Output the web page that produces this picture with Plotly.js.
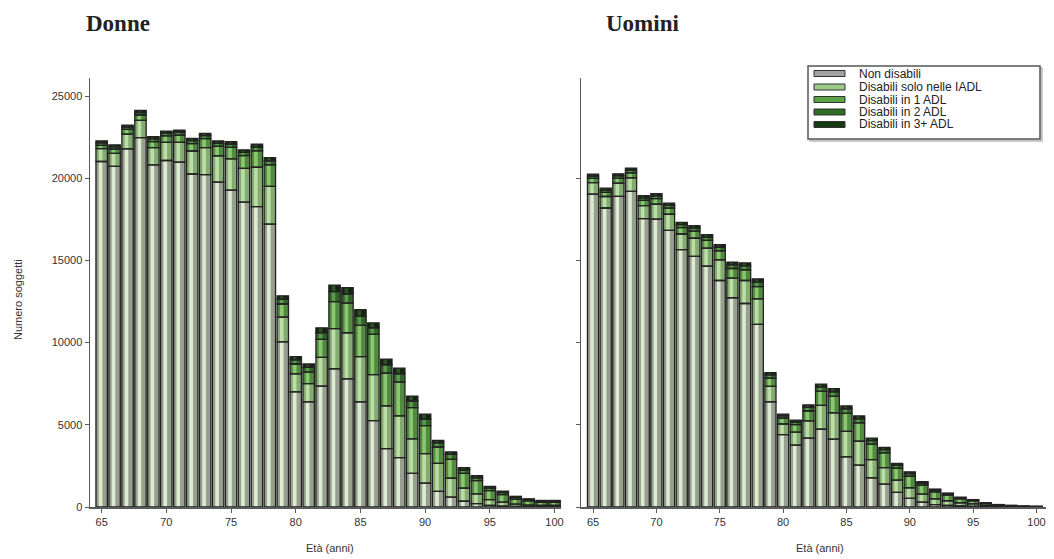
<!DOCTYPE html>
<html>
<head>
<meta charset="utf-8">
<script src="https://cdn.plot.ly/plotly-3.0.1.min.js"></script>
<style>html,body{margin:0;padding:0;background:#fff;}#chart{width:1054px;height:559px;}</style>
</head>
<body>
<div id="chart"></div>
<script>
// Categories: age in years
const ages = [65,66,67,68,69,70,71,72,73,74,75,76,77,78,79,80,81,82,83,84,85,86,87,88,89,90,91,92,93,94,95,96,97,98,99,100];
const ageTicks = [65,70,75,80,85,90,95,100];
const yTicks = [0,5000,10000,15000,20000,25000];
const seriesNames = ["Non disabili","Disabili solo nelle IADL","Disabili in 1 ADL","Disabili in 2 ADL","Disabili in 3+ ADL"];

// Donne (women)
const donneNon  = [21020,20720,21790,22470,20820,21080,20980,20260,20220,19760,19280,18550,18270,17210,10050,7000,6400,7350,8400,7800,6400,5250,3550,3000,2050,1450,950,600,350,200,100,50,30,20,10,10];
const donneIADL = [780,800,900,1050,1050,1100,1200,1400,1650,1600,1900,2050,2400,2300,1500,1100,1100,1750,2450,2800,2750,2800,2600,2550,2100,1800,1700,1150,800,600,350,250,150,100,80,80];
const donne1ADL = [200,250,280,330,360,400,450,450,540,580,700,780,1000,1300,800,600,700,1100,1650,1800,1900,2450,2000,2050,1900,1700,1000,1150,900,800,550,450,300,250,200,200];
const donne2ADL = [150,140,140,150,170,160,170,180,180,190,200,200,230,250,300,250,300,400,600,550,550,400,500,500,400,400,250,300,200,180,150,130,100,80,60,60];
const donne3ADL = [120,120,120,130,130,130,130,140,140,140,150,150,170,200,200,200,200,300,400,400,400,300,350,350,300,300,150,150,150,120,100,90,70,50,50,50];

// Uomini (men)
const uominiNon  = [19040,18190,18900,19200,17540,17520,16830,15660,15250,14650,13780,12730,12380,11110,6390,4400,3760,4190,4730,4130,3050,2550,1780,1390,890,520,300,150,100,60,40,20,10,5,3,2];
const uominiIADL = [700,700,800,820,800,900,980,950,1100,1100,1250,1200,1400,1550,950,650,800,1050,1450,1600,1550,1450,1100,1000,750,650,480,350,280,200,150,80,50,30,20,12];
const uomini1ADL = [250,250,290,310,310,340,370,390,430,470,560,580,650,750,500,350,450,600,850,1000,1100,1120,950,900,730,700,550,420,340,240,180,110,60,45,25,18];
const uomini2ADL = [140,140,150,160,160,170,170,180,190,200,210,220,240,270,200,150,160,220,260,280,270,250,210,200,170,160,130,100,80,60,50,30,20,12,7,5];
const uomini3ADL = [120,120,130,130,130,130,140,140,150,150,160,160,180,200,140,100,110,150,180,190,180,170,150,130,110,110,80,70,50,40,30,20,10,8,5,3];

const shadeColors = ["#979f8f","#84ac70","#518b40","#316428","#13240f"];
const lightColors = ["#dcebd2","#bddda8","#8cc671","#5a9a4d","#30502a"];
const legendColors = ["#a3a3a3","#9ccb87","#58a342","#2f6a27","#143a12"];
const edgeColor = "#222";

function panel(xa, ya, arrays) {
  const cum = ages.map(() => 0);
  const fills = [], highs = [], outs = [];
  arrays.forEach((vals, k) => {
    const base = cum.slice();
    fills.push({type:"bar", x:ages, y:vals, base:base, xaxis:xa, yaxis:ya, width:0.88,
      name:seriesNames[k], showlegend:false, hoverinfo:"skip",
      marker:{color:shadeColors[k], line:{width:0}}});
    highs.push({type:"bar", x:ages, y:vals, base:base, xaxis:xa, yaxis:ya, width:0.28, offset:-0.22,
      showlegend:false, hoverinfo:"skip", marker:{color:lightColors[k], line:{width:0}}});
    outs.push({type:"bar", x:ages, y:vals, base:base, xaxis:xa, yaxis:ya, width:0.88,
      showlegend:false, hoverinfo:"skip", marker:{color:"rgba(0,0,0,0)", line:{color:edgeColor, width:1.3}}});
    vals.forEach((v, i) => { cum[i] += v; });
  });
  return fills.concat(highs, outs);
}

const data = panel("x","y",[donneNon,donneIADL,donne1ADL,donne2ADL,donne3ADL])
  .concat(panel("x2","y2",[uominiNon,uominiIADL,uomini1ADL,uomini2ADL,uomini3ADL]));

const W = 1054, H = 559;
const px = v => v / W;
const py = v => 1 - v / H;

const sansFont = "Liberation Sans, Arial, sans-serif";
const tickFont = {family:sansFont, size:11, color:"#333"};
const axisCommon = {showgrid:false, zeroline:false, showline:true, linecolor:"#5a5a5a", linewidth:1.5,
  ticks:"outside", ticklen:4, tickcolor:"#5a5a5a", tickwidth:1, tickfont:tickFont, fixedrange:true, tickformat:"d"};
const yDomain = [py(507), py(78)];

// Legend drawn as shapes + text
const legendRows = [73.5, 87, 99.5, 112, 124.5];
const shapes = [
  {type:"rect", xref:"paper", yref:"paper", x0:px(810), x1:px(1042), y0:py(141), y1:py(68),
    line:{color:"#bbb", width:1.5}, fillcolor:"#ddd"},
  {type:"rect", xref:"paper", yref:"paper", x0:px(808), x1:px(1040), y0:py(139), y1:py(66),
    line:{color:"#555", width:1.5}, fillcolor:"#fff"}
];
const annotations = [];
seriesNames.forEach((name, k) => {
  const r = legendRows[k];
  shapes.push({type:"rect", xref:"paper", yref:"paper", x0:px(814), x1:px(845), y0:py(r+3), y1:py(r-3),
    line:{color:"#333", width:1}, fillcolor:legendColors[k]});
  annotations.push({text:name, xref:"paper", yref:"paper", x:px(857), y:py(r), xanchor:"left", yanchor:"middle",
    showarrow:false, font:{family:sansFont, size:12, color:"#222"}});
});

const serif = "Liberation Serif, Times New Roman, serif";
annotations.push(
  {text:"<b>Donne</b>", xref:"paper", yref:"paper", x:px(84), y:py(24), xanchor:"left", yanchor:"middle", showarrow:false,
    font:{family:serif, size:23, color:"#222"}},
  {text:"<b>Uomini</b>", xref:"paper", yref:"paper", x:px(604), y:py(24), xanchor:"left", yanchor:"middle", showarrow:false,
    font:{family:serif, size:23, color:"#222"}},
  {text:"Numero soggetti", xref:"paper", yref:"paper", x:px(18), y:py(300), xanchor:"center", yanchor:"middle", textangle:-90, showarrow:false,
    font:{family:sansFont, size:11, color:"#333"}},
  {text:"Età (anni)", xref:"paper", yref:"paper", x:px(330), y:py(548), xanchor:"center", yanchor:"middle", showarrow:false,
    font:{family:sansFont, size:11, color:"#333"}},
  {text:"Età (anni)", xref:"paper", yref:"paper", x:px(820), y:py(548), xanchor:"center", yanchor:"middle", showarrow:false,
    font:{family:sansFont, size:11, color:"#333"}}
);

const layout = {
  width:W, height:H,
  margin:{l:0, r:0, t:0, b:0},
  paper_bgcolor:"#fff", plot_bgcolor:"rgba(0,0,0,0)",
  barmode:"overlay",
  showlegend:false,
  xaxis:Object.assign({}, axisCommon, {domain:[px(90), px(561)], range:[64.1,100.5], tickvals:ageTicks, anchor:"y"}),
  yaxis:Object.assign({}, axisCommon, {domain:yDomain, range:[0,26100], tickvals:yTicks, anchor:"x"}),
  xaxis2:Object.assign({}, axisCommon, {domain:[px(581), px(1046)], range:[64.05,100.75], tickvals:ageTicks, anchor:"y2"}),
  yaxis2:Object.assign({}, axisCommon, {domain:yDomain, range:[0,26100], tickvals:[0,5000,10000,15000,20000], showticklabels:false, anchor:"x2"}),
  shapes:shapes,
  annotations:annotations
};

Plotly.newPlot("chart", data, layout, {displayModeBar:false, staticPlot:true});
</script>
</body>
</html>
